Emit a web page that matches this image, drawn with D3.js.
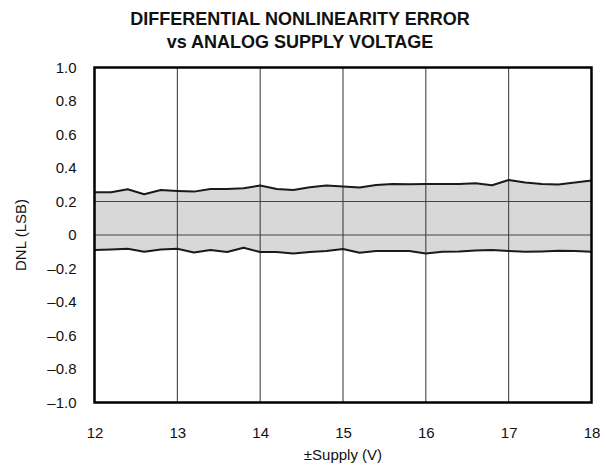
<!DOCTYPE html>
<html>
<head>
<meta charset="utf-8">
<script src="https://cdn.jsdelivr.net/npm/d3@7"></script>
<style>
  body { margin: 0; background: #fff; }
  text { font-family: Arial, "Liberation Sans", Helvetica, sans-serif; fill: #111; }
</style>
</head>
<body>
<script>
// supply voltage, 0.2 V steps
const supply = [12.0,12.2,12.4,12.6,12.8,13.0,13.2,13.4,13.6,13.8,14.0,14.2,14.4,14.6,14.8,
  15.0,15.2,15.4,15.6,15.8,16.0,16.2,16.4,16.6,16.8,17.0,17.2,17.4,17.6,17.8,18.0];
const dnlMax = [0.255,0.255,0.273,0.243,0.269,0.263,0.259,0.275,0.275,0.279,0.295,0.275,0.269,0.285,0.295,
  0.289,0.283,0.299,0.305,0.303,0.305,0.305,0.305,0.309,0.297,0.328,0.313,0.305,0.301,0.313,0.325];
const dnlMin = [-0.090,-0.086,-0.082,-0.100,-0.086,-0.082,-0.104,-0.090,-0.102,-0.076,-0.102,-0.102,-0.111,-0.102,-0.096,
  -0.084,-0.106,-0.096,-0.096,-0.096,-0.110,-0.100,-0.098,-0.092,-0.090,-0.096,-0.100,-0.098,-0.094,-0.096,-0.100];
const xTicks = [12,13,14,15,16,17,18];
const yTicks = [1.0,0.8,0.6,0.4,0.2,0,-0.2,-0.4,-0.6,-0.8,-1.0];
const yGrid = [0.2,0];

const w = 606, h = 466;
const mL = 94.5, mR = 591.5, mT = 67.5, mB = 402.5;

const svg = d3.select("body").append("svg")
  .attr("width", w).attr("height", h);

const x = d3.scaleLinear().domain([12,18]).range([mL,mR]);
const y = d3.scaleLinear().domain([-1,1]).range([mB,mT]);

const pts = supply.map((s,i) => ({s: s, hi: dnlMax[i], lo: dnlMin[i]}));

// shaded band
svg.append("path")
  .datum(pts)
  .attr("fill", "#d8d8d8")
  .attr("d", d3.area().x(d => x(d.s)).y0(d => y(d.lo)).y1(d => y(d.hi)));

// grid
svg.selectAll(".vg").data(xTicks.slice(1,-1)).enter().append("line")
  .attr("x1", d => x(d)).attr("x2", d => x(d))
  .attr("y1", mT).attr("y2", mB)
  .attr("stroke", "#333").attr("stroke-width", 1);
svg.selectAll(".hg").data(yGrid).enter().append("line")
  .attr("x1", mL).attr("x2", mR)
  .attr("y1", d => y(d)).attr("y2", d => y(d))
  .attr("stroke", "#444").attr("stroke-width", 1);

// lines
["hi","lo"].forEach(k => {
  svg.append("path").datum(pts)
    .attr("fill", "none").attr("stroke", "#1a1a1a").attr("stroke-width", 2)
    .attr("stroke-linejoin", "round")
    .attr("d", d3.line().x(d => x(d.s)).y(d => y(d[k])));
});

// frame
svg.append("rect")
  .attr("x", mL).attr("y", mT)
  .attr("width", mR-mL).attr("height", mB-mT)
  .attr("fill", "none").attr("stroke", "#000").attr("stroke-width", 2.5);

// axes
const xAxis = svg.append("g")
  .attr("transform", "translate(0," + (mB+22) + ")")
  .call(d3.axisBottom(x).tickValues(xTicks).tickSize(0).tickFormat(d3.format("d")));
xAxis.select(".domain").remove();
xAxis.selectAll("text").attr("font-size", 15).attr("fill", "#111")
  .attr("font-family", "Arial, 'Liberation Sans', sans-serif");

const fmtY = d => d === 0 ? "0" : d3.format(".1f")(d).replace(/[-\u2212]/, "\u2013");
const yAxis = svg.append("g")
  .attr("transform", "translate(" + (mL-15) + ",0)")
  .call(d3.axisLeft(y).tickValues(yTicks).tickSize(0).tickFormat(fmtY));
yAxis.select(".domain").remove();
yAxis.selectAll("text").attr("font-size", 15).attr("fill", "#111")
  .attr("font-family", "Arial, 'Liberation Sans', sans-serif");

// titles
svg.append("text").attr("x", 300).attr("y", 25)
  .attr("text-anchor", "middle").attr("font-size", 18).attr("font-weight", "bold")
  .text("DIFFERENTIAL NONLINEARITY ERROR");
svg.append("text").attr("x", 300).attr("y", 48)
  .attr("text-anchor", "middle").attr("font-size", 18).attr("font-weight", "bold")
  .text("vs ANALOG SUPPLY VOLTAGE");

svg.append("text").attr("x", (mL+mR)/2).attr("y", 460)
  .attr("text-anchor", "middle").attr("font-size", 15)
  .text("\u00b1Supply (V)");
svg.append("text")
  .attr("transform", "translate(26," + y(0) + ") rotate(-90)")
  .attr("text-anchor", "middle").attr("font-size", 15)
  .text("DNL (LSB)");
</script>
</body>
</html>
